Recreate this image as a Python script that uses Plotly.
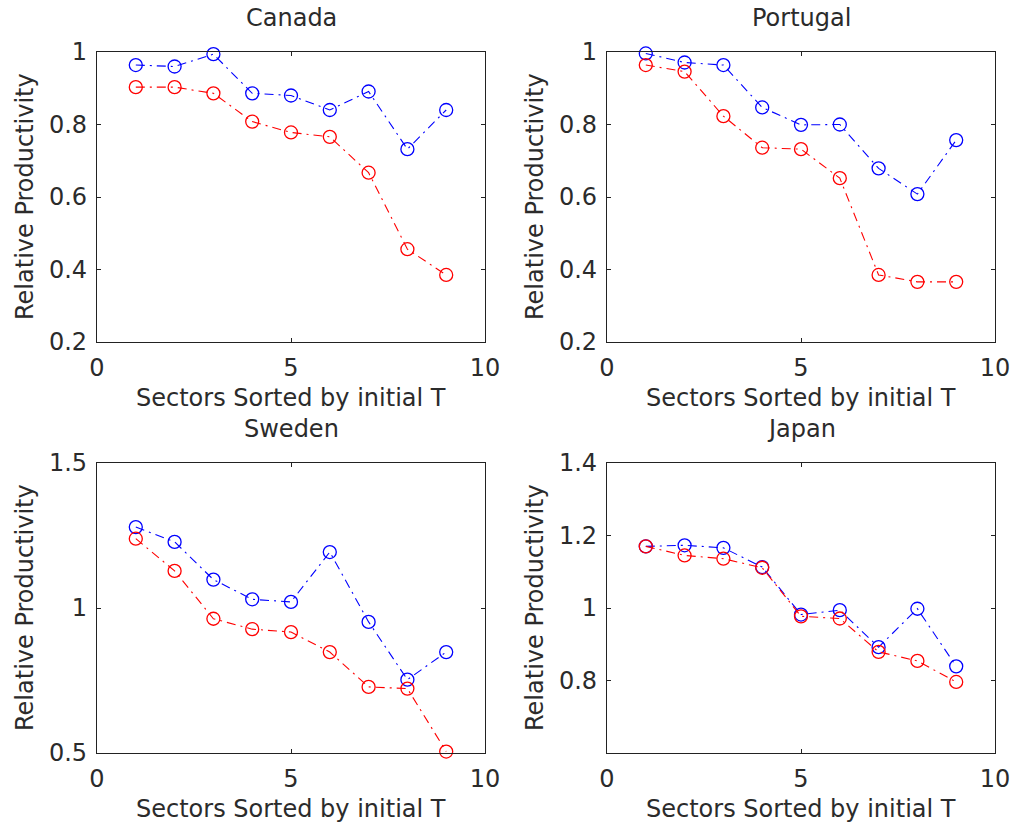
import plotly.graph_objects as go

# Sector index (sectors sorted by initial T)
sectors = [1, 2, 3, 4, 5, 6, 7, 8, 9]

# Relative productivity per country: blue and red series
canada_blue = [0.964, 0.960, 0.994, 0.886, 0.880, 0.840, 0.891, 0.732, 0.840]
canada_red = [0.903, 0.903, 0.886, 0.808, 0.778, 0.766, 0.667, 0.456, 0.385]

portugal_blue = [0.996, 0.971, 0.964, 0.847, 0.799, 0.800, 0.679, 0.608, 0.757]
portugal_red = [0.964, 0.946, 0.823, 0.736, 0.732, 0.652, 0.385, 0.366, 0.366]

sweden_blue = [1.279, 1.228, 1.098, 1.030, 1.021, 1.193, 0.952, 0.753, 0.848]
sweden_red = [1.239, 1.128, 0.963, 0.927, 0.917, 0.848, 0.728, 0.722, 0.505]

japan_blue = [1.170, 1.173, 1.166, 1.113, 0.982, 0.994, 0.892, 0.998, 0.839]
japan_red = [1.170, 1.145, 1.136, 1.111, 0.977, 0.971, 0.879, 0.854, 0.796]

titles = ["Canada", "Portugal", "Sweden", "Japan"]
x_ticks = [0, 5, 10]
y_ranges = [[0.2, 1.0], [0.2, 1.0], [0.5, 1.5], [0.6, 1.4]]
y_ticks = [
    [0.2, 0.4, 0.6, 0.8, 1.0],
    [0.2, 0.4, 0.6, 0.8, 1.0],
    [0.5, 1.0, 1.5],
    [0.8, 1.0, 1.2, 1.4],
]
series = [
    (canada_blue, canada_red),
    (portugal_blue, portugal_red),
    (sweden_blue, sweden_red),
    (japan_blue, japan_red),
]

W, H = 1013, 826
FONT = "DejaVu Sans"
FS = 24
TXT = "#2b2b2b"

# panel boxes in pixels: left, right, top, bottom
boxes = [
    (97, 485, 52, 342),
    (607, 995, 52, 342),
    (97, 485, 463, 753),
    (607, 995, 463, 753),
]

fig = go.Figure()
annotations = []
layout = {}

for i, ((blue, red), title, (x0, x1, y0, y1)) in enumerate(zip(series, titles, boxes)):
    n = i + 1
    xa = "x" if n == 1 else f"x{n}"
    ya = "y" if n == 1 else f"y{n}"
    for vals, color in ((blue, "#0000ff"), (red, "#ff0000")):
        fig.add_trace(go.Scatter(
            x=sectors, y=vals, xaxis=xa, yaxis=ya,
            mode="lines+markers",
            line=dict(color=color, width=1.1, dash="9px,5px,2px,5px"),
            marker=dict(symbol="circle-open", size=13, color=color,
                        line=dict(width=1.3, color=color)),
            showlegend=False, cliponaxis=False,
        ))
    axis_common = dict(
        showline=True, linecolor="#222", linewidth=1.2, mirror="ticks",
        ticks="inside", ticklen=4, tickwidth=1, tickcolor="#222",
        showgrid=False, zeroline=False, automargin=False,
        tickfont=dict(family=FONT, size=FS, color=TXT),
    )
    layout[f"xaxis{n if n > 1 else ''}"] = dict(
        axis_common, domain=[x0 / W, x1 / W], range=[0, 10],
        tickvals=x_ticks, anchor=ya, ticklabelstandoff=4,
    )
    layout[f"yaxis{n if n > 1 else ''}"] = dict(
        axis_common, domain=[1 - y1 / H, 1 - y0 / H], range=y_ranges[i],
        tickvals=y_ticks[i], anchor=xa, ticklabelstandoff=4,
    )
    cx = (x0 + x1) / 2
    # panel title
    annotations.append(dict(
        text=title, x=cx / W, y=1 - (y0 - 34) / H, xref="paper", yref="paper",
        showarrow=False, xanchor="center", yanchor="middle",
        font=dict(family=FONT, size=FS, color=TXT),
    ))
    # x-axis title
    annotations.append(dict(
        text="Sectors Sorted by initial T", x=cx / W, y=1 - (y1 + 56) / H,
        xref="paper", yref="paper", showarrow=False,
        xanchor="center", yanchor="middle",
        font=dict(family=FONT, size=FS, color=TXT),
    ))
    # y-axis title
    annotations.append(dict(
        text="Relative Productivity", x=(x0 - 72) / W, y=1 - ((y0 + y1) / 2) / H,
        xref="paper", yref="paper", showarrow=False, textangle=-90,
        xanchor="center", yanchor="middle",
        font=dict(family=FONT, size=FS, color=TXT),
    ))

fig.update_layout(
    width=W, height=H,
    margin=dict(l=0, r=0, t=0, b=0, autoexpand=False),
    paper_bgcolor="white", plot_bgcolor="white",
    annotations=annotations,
    **layout,
)

fig.write_html("out.html")
